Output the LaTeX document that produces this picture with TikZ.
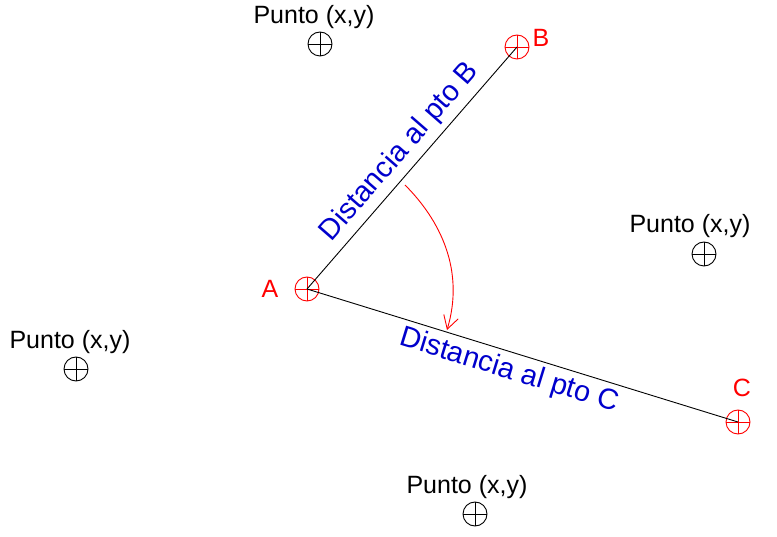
\documentclass[tikz,border=0pt]{standalone}
\usepackage{fontspec}
\setmainfont{Liberation Sans}
\usetikzlibrary{arrows.meta}
\begin{document}
\begin{tikzpicture}[x=1pt,y=-1pt,line width=0.9pt,
  pt/.style={circle,draw=#1,minimum size=24pt,inner sep=0pt,path picture={\draw[#1] (path picture bounding box.north)--(path picture bounding box.south) (path picture bounding box.west)--(path picture bounding box.east);}},
  lbl/.style={font=\fontsize{25}{27}\selectfont},
  dist/.style={text=blue!80!black,font=\fontsize{29}{31}\selectfont}]
\useasboundingbox (0,0) rectangle (777,537);
\node[pt=red] (A) at (307,289) {};
\node[pt=red] (B) at (517,47) {};
\node[pt=red] (C) at (738,422) {};
\node[pt=black] (P1) at (320,44) {};
\node[pt=black] (P2) at (704,254) {};
\node[pt=black] (P3) at (76,369) {};
\node[pt=black] (P4) at (475,514) {};
\node[lbl] (L1) at (314,17) {Punto (x,y)};
\node[lbl] (L2) at (690,226) {Punto (x,y)};
\node[lbl] (L3) at (70,342) {Punto (x,y)};
\node[lbl] (L4) at (467,487) {Punto (x,y)};
\node[lbl,text=red] (LA) at (270,289) {A};
\node[lbl,text=red] (LB) at (541,38) {B};
\node[lbl,text=red] (LC) at (742,388) {C};
\draw (A.center)--(B.center);
\draw (A.center)--(C.center);
\node[dist,rotate=49] (DB) at (400,152) {Distancia al pto B};
\node[dist,rotate=-17.1] (DC) at (509,371) {Distancia al pto C};
\coordinate (s) at (405,185);
\coordinate (e) at (447,330);
\draw[red,-{Straight Barb[length=13pt,width=15pt]}] (s) .. controls (440,220) and (465,270) .. (e);
\end{tikzpicture}
\end{document}
